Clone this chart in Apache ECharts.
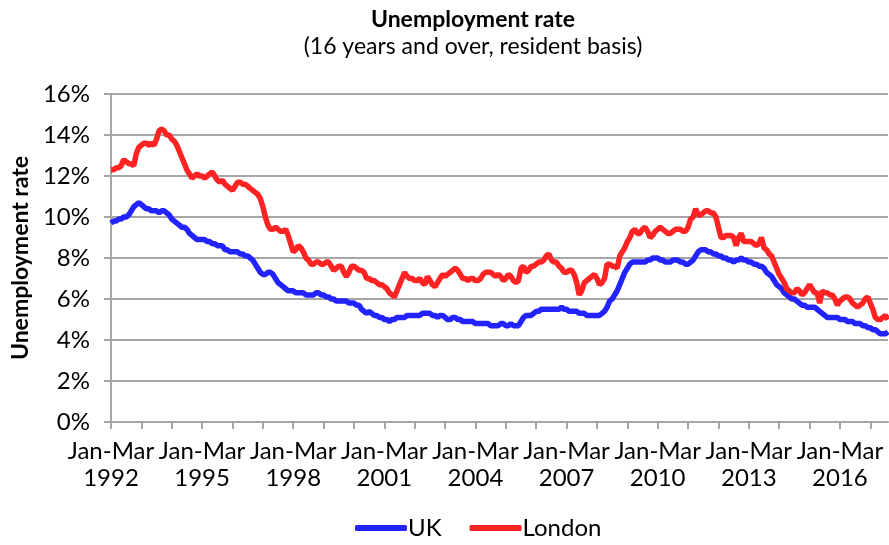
<!DOCTYPE html>
<html>
<head>
<meta charset="utf-8">
<script src="https://cdn.jsdelivr.net/npm/echarts@6/dist/echarts.min.js"></script>
<style>
    html, body { margin: 0; padding: 0; background: #fff; }
    #main { width: 889px; height: 545px; }
</style>
</head>
<body>
<div id="main"></div>
<script>
// 数据 (rolling quarters, Jan-Mar 1992 onwards)
var monthNames = ['Jan', 'Feb', 'Mar', 'Apr', 'May', 'Jun', 'Jul', 'Aug', 'Sep', 'Oct', 'Nov', 'Dec'];
var startYear = 1992;
var yTicks = [0, 2, 4, 6, 8, 10, 12, 14, 16];

var ukRate = [
    9.7, 9.8, 9.8, 9.9, 9.9, 10.0, 10.0, 10.1, 10.3, 10.5, 10.6, 10.7,
    10.6, 10.5, 10.4, 10.4, 10.3, 10.3, 10.3, 10.2, 10.3, 10.3, 10.2, 10.1,
    9.9, 9.8, 9.7, 9.6, 9.5, 9.5, 9.4, 9.2, 9.1, 9.0, 8.9, 8.9,
    8.9, 8.9, 8.8, 8.8, 8.7, 8.7, 8.6, 8.6, 8.6, 8.4, 8.4, 8.3,
    8.3, 8.3, 8.3, 8.2, 8.2, 8.1, 8.1, 8.0, 7.9, 7.7, 7.5, 7.3,
    7.2, 7.2, 7.3, 7.3, 7.2, 7.0, 6.8, 6.7, 6.6, 6.5, 6.4, 6.4,
    6.4, 6.3, 6.3, 6.3, 6.3, 6.2, 6.2, 6.2, 6.2, 6.3, 6.3, 6.2,
    6.2, 6.1, 6.1, 6.0, 6.0, 5.9, 5.9, 5.9, 5.9, 5.9, 5.8, 5.8,
    5.8, 5.7, 5.7, 5.5, 5.4, 5.3, 5.4, 5.3, 5.2, 5.2, 5.1, 5.1,
    5.0, 5.0, 4.9, 5.0, 5.0, 5.1, 5.1, 5.1, 5.1, 5.2, 5.2, 5.2,
    5.2, 5.2, 5.2, 5.3, 5.3, 5.3, 5.3, 5.2, 5.2, 5.1, 5.2, 5.2,
    5.1, 5.0, 5.0, 5.1, 5.1, 5.0, 5.0, 4.9, 4.9, 4.9, 4.9, 4.9,
    4.8, 4.8, 4.8, 4.8, 4.8, 4.8, 4.7, 4.7, 4.7, 4.7, 4.8, 4.8,
    4.7, 4.7, 4.8, 4.7, 4.7, 4.7, 4.9, 5.1, 5.2, 5.2, 5.2, 5.3,
    5.4, 5.4, 5.5, 5.5, 5.5, 5.5, 5.5, 5.5, 5.5, 5.5, 5.6, 5.5,
    5.5, 5.4, 5.4, 5.4, 5.4, 5.3, 5.3, 5.3, 5.2, 5.2, 5.2, 5.2,
    5.2, 5.2, 5.3, 5.4, 5.6, 5.9, 6.0, 6.2, 6.4, 6.7, 7.0, 7.3,
    7.5, 7.7, 7.8, 7.8, 7.8, 7.8, 7.8, 7.8, 7.9, 7.9, 8.0, 8.0,
    8.0, 7.9, 7.9, 7.8, 7.8, 7.8, 7.9, 7.9, 7.9, 7.8, 7.8, 7.7,
    7.7, 7.8, 7.9, 8.1, 8.3, 8.4, 8.4, 8.4, 8.3, 8.3, 8.2, 8.2,
    8.1, 8.1, 8.0, 8.0, 7.9, 7.9, 7.8, 7.9, 7.9, 8.0, 7.9, 7.9,
    7.8, 7.8, 7.7, 7.7, 7.6, 7.6, 7.5, 7.3, 7.2, 7.1, 6.9, 6.7,
    6.6, 6.5, 6.3, 6.2, 6.1, 6.0, 6.0, 5.9, 5.8, 5.7, 5.7, 5.6,
    5.6, 5.6, 5.6, 5.5, 5.4, 5.3, 5.2, 5.1, 5.1, 5.1, 5.1, 5.1,
    5.0, 5.0, 5.0, 4.9, 4.9, 4.9, 4.8, 4.8, 4.8, 4.7, 4.7, 4.6,
    4.6, 4.5, 4.5, 4.4, 4.3, 4.3, 4.3, 4.4
];

var londonRate = [
    12.3, 12.3, 12.4, 12.4, 12.5, 12.8, 12.7, 12.6, 12.6, 12.5, 13.1, 13.4,
    13.5, 13.6, 13.6, 13.5, 13.6, 13.5, 13.8, 14.2, 14.3, 14.2, 14.0, 14.0,
    13.8, 13.7, 13.5, 13.2, 12.9, 12.6, 12.3, 12.1, 11.9, 12.0, 12.1, 12.0,
    12.0, 11.9, 12.0, 12.1, 12.2, 12.0, 11.8, 11.7, 11.8, 11.6, 11.5, 11.4,
    11.3, 11.5, 11.7, 11.7, 11.6, 11.6, 11.5, 11.4, 11.3, 11.2, 11.1, 10.9,
    10.5, 10.0, 9.6, 9.4, 9.4, 9.5, 9.4, 9.3, 9.3, 9.4, 9.1, 8.7,
    8.3, 8.4, 8.6, 8.5, 8.3, 8.0, 7.9, 7.7, 7.7, 7.8, 7.8, 7.7,
    7.7, 7.8, 7.8, 7.6, 7.4, 7.5, 7.6, 7.6, 7.3, 7.1, 7.3, 7.6,
    7.6, 7.5, 7.4, 7.4, 7.3, 7.0, 7.0, 6.9, 6.9, 6.8, 6.7, 6.7,
    6.6, 6.5, 6.3, 6.2, 6.1, 6.4, 6.7, 7.0, 7.3, 7.1, 7.0, 7.0,
    6.9, 6.9, 7.0, 6.8, 6.7, 7.1, 6.9, 6.7, 6.6, 6.8, 7.0, 7.2,
    7.1, 7.2, 7.3, 7.4, 7.5, 7.4, 7.2, 7.0, 7.0, 6.9, 7.0, 7.0,
    6.9, 6.9, 7.0, 7.2, 7.3, 7.3, 7.3, 7.2, 7.1, 7.2, 7.1, 6.9,
    7.0, 7.2, 7.1, 6.9, 6.8, 6.9, 7.5, 7.6, 7.3, 7.4, 7.6, 7.6,
    7.7, 7.8, 7.8, 7.9, 8.1, 8.2, 7.9, 7.8, 7.8, 7.6, 7.5, 7.3,
    7.3, 7.4, 7.4, 7.2, 6.8, 6.2, 6.4, 6.8, 6.9, 7.0, 7.1, 7.2,
    7.0, 6.7, 6.8, 7.0, 7.7, 7.7, 7.6, 7.6, 7.5, 8.1, 8.3, 8.5,
    8.8, 9.0, 9.3, 9.4, 9.2, 9.2, 9.4, 9.5, 9.3, 9.0, 9.1, 9.3,
    9.4, 9.5, 9.4, 9.3, 9.2, 9.2, 9.3, 9.4, 9.4, 9.4, 9.3, 9.3,
    9.5, 9.9, 10.0, 10.4, 10.1, 10.1, 10.2, 10.3, 10.3, 10.2, 10.2, 10.0,
    9.5, 9.0, 9.0, 9.1, 9.1, 9.1, 9.0, 8.6, 9.0, 9.2, 8.8, 8.8,
    8.8, 8.8, 8.7, 8.6, 8.7, 9.0, 8.5, 8.4, 8.2, 8.1, 7.8, 7.5,
    7.2, 7.0, 6.8, 6.5, 6.4, 6.3, 6.3, 6.5, 6.4, 6.2, 6.3, 6.5,
    6.7, 6.5, 6.3, 6.3, 5.8, 6.4, 6.3, 6.3, 6.2, 6.2, 6.0, 5.7,
    5.9, 6.0, 6.1, 6.1, 6.0, 5.8, 5.7, 5.6, 5.7, 5.8, 6.0, 6.1,
    5.8, 5.5, 5.1, 5.0, 5.0, 5.1, 5.2, 5.0
];

// 类目: "Jan-Mar 1992", "Feb-Apr 1992", ...
var periods = [];
for (var i = 0; i < ukRate.length; i++) {
    var m = i % 12;
    var y = startYear + Math.floor(i / 12);
    var endM = (m + 2) % 12;
    var endY = m + 2 >= 12 ? y + 1 : y;
    periods.push(monthNames[m] + '-' + monthNames[endM] + ' ' + endY);
}

var font = 'Lato, sans-serif';
var gridColor = '#a6a6a6';
var ukColor = '#2323ff';
var londonColor = '#ff2323';

(function () {
    var myChart = echarts.init(document.getElementById('main'), null, { renderer: 'canvas' });
    var option = {
        animation: false,
        title: {
            text: 'Unemployment rate',
            subtext: '(16 years and over, resident basis)',
            left: 468,
            textAlign: 'center',
            top: 3,
            itemGap: 4,
            textStyle: {
                fontFamily: font,
                fontSize: 23,
                fontWeight: 'bold',
                color: '#000'
            },
            subtextStyle: {
                fontFamily: font,
                fontSize: 23,
                color: '#000'
            }
        },
        legend: {
            bottom: 0,
            left: 350,
            itemWidth: 52,
            itemHeight: 6,
            itemGap: 28,
            icon: 'roundRect',
            data: [
                { name: 'UK', itemStyle: { color: ukColor } },
                { name: 'London', itemStyle: { color: londonColor } }
            ],
            textStyle: {
                fontFamily: font,
                fontSize: 24,
                color: '#000',
                padding: [0, 0, 0, -4]
            }
        },
        grid: {
            left: 111,
            right: 1,
            top: 94,
            bottom: 123,
            containLabel: false,
            outerBoundsMode: 'none'
        },
        xAxis: {
            type: 'category',
            boundaryGap: false,
            data: periods,
            axisLine: {
                lineStyle: { color: gridColor, width: 2 }
            },
            axisTick: {
                show: true,
                interval: 11,
                length: 7,
                lineStyle: { color: gridColor, width: 2 }
            },
            axisLabel: {
                interval: 35,
                margin: 16,
                fontFamily: font,
                fontSize: 24,
                lineHeight: 27,
                color: '#000',
                formatter: function (v) {
                    return v.replace(' ', '\n');
                }
            },
            splitLine: { show: false }
        },
        yAxis: {
            type: 'value',
            min: yTicks[0],
            max: yTicks[yTicks.length - 1],
            interval: 2,
            name: 'Unemployment rate',
            nameLocation: 'middle',
            nameGap: 78,
            nameTextStyle: {
                fontFamily: font,
                fontSize: 23,
                fontWeight: 'bold',
                color: '#000'
            },
            axisLine: {
                show: true,
                lineStyle: { color: gridColor, width: 2 }
            },
            axisTick: {
                show: true,
                length: 7,
                lineStyle: { color: gridColor, width: 2 }
            },
            axisLabel: {
                margin: 21,
                fontFamily: font,
                fontSize: 24,
                color: '#000',
                formatter: '{value}%'
            },
            splitLine: {
                lineStyle: { color: gridColor, width: 2 }
            }
        },
        series: [
            {
                name: 'UK',
                type: 'line',
                data: ukRate,
                symbol: 'none',
                lineStyle: { width: 5.5, color: ukColor },
                itemStyle: { color: ukColor }
            },
            {
                name: 'London',
                type: 'line',
                data: londonRate,
                symbol: 'none',
                lineStyle: { width: 5.5, color: londonColor },
                itemStyle: { color: londonColor }
            }
        ]
    };
    myChart.setOption(option);

    window.addEventListener('resize', function () {
        myChart.resize();
    });
})();
</script>
</body>
</html>
